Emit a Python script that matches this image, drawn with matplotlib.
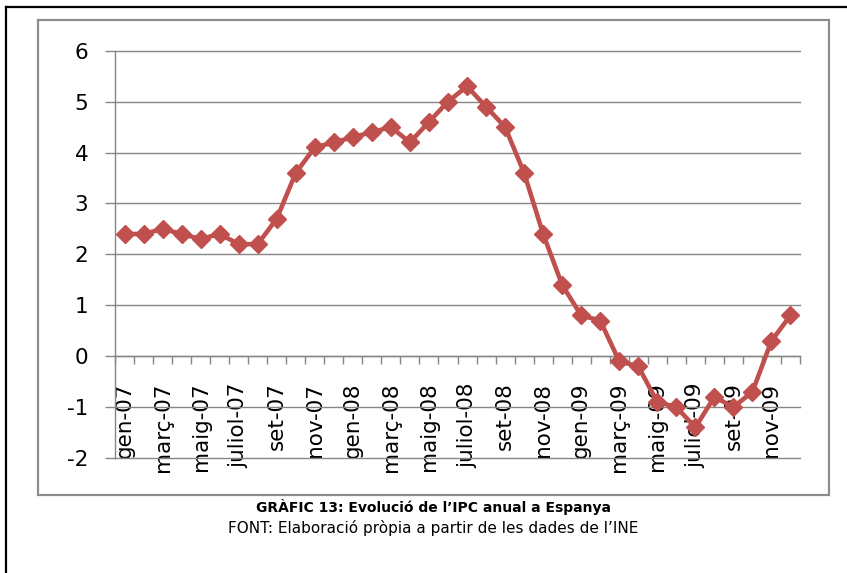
"""
Evolucio de l'IPC anual a Espanya (gen-07 a des-09), line chart with
diamond markers, framed like the original Excel figure in the report.
"""

import numpy as np
import matplotlib
matplotlib.use("Agg")
import matplotlib.pyplot as plt
from matplotlib.lines import Line2D
from matplotlib.patches import Rectangle


MONTHS = ["gen", "febr", "març", "abr", "maig", "juny",
          "juliol", "ag", "set", "oct", "nov", "des"]
YEARS = ["07", "08", "09"]
CATEGORIES = [f"{m}-{y}" for y in YEARS for m in MONTHS]

IPC = [2.4, 2.4, 2.5, 2.4, 2.3, 2.4, 2.2, 2.2, 2.7, 3.6, 4.1, 4.2,
       4.3, 4.4, 4.5, 4.2, 4.6, 5.0, 5.3, 4.9, 4.5, 3.6, 2.4, 1.4,
       0.8, 0.7, -0.1, -0.2, -0.9, -1.0, -1.4, -0.8, -1.0, -0.7, 0.3, 0.8]

Y_TICKS = [-2, -1, 0, 1, 2, 3, 4, 5, 6]

TITLE = "GRÀFIC 13: Evolució de l’IPC anual a Espanya"
SOURCE = "FONT: Elaboració pròpia a partir de les dades de l’INE"

LINE_COLOR = "#C0504D"
GRID_COLOR = "#868686"

W, H = 847, 573


def px(x, y):
    # pixel (from top-left) -> figure fraction
    return x / W, 1 - y / H


def main():
    fig = plt.figure(figsize=(W / 100, H / 100), dpi=100)

    # outer page frame (black) and chart frame (gray)
    fig.add_artist(Line2D([6 / W, 6 / W], [0, 1 - 7 / H], color="black",
                          lw=1.6, transform=fig.transFigure))
    fig.add_artist(Line2D([6 / W, 1], [1 - 7 / H, 1 - 7 / H], color="black",
                          lw=1.6, transform=fig.transFigure))
    fig.add_artist(Rectangle(px(38, 495), (829 - 38) / W, (495 - 20) / H,
                             fill=False, edgecolor="#8c8c8c", lw=1.6,
                             transform=fig.transFigure))

    left, right, top, bottom = 115, 800, 50.7, 458
    ax = fig.add_axes([left / W, 1 - bottom / H, (right - left) / W, (bottom - top) / H])

    x = np.arange(len(IPC))
    ax.plot(x, IPC, color=LINE_COLOR, lw=3.3, marker="D", markersize=9,
            markerfacecolor=LINE_COLOR, markeredgecolor=LINE_COLOR, zorder=3)

    ax.set_xlim(-0.5, len(IPC) - 0.5)
    ax.set_ylim(min(Y_TICKS), max(Y_TICKS))

    for side in ["top", "right"]:
        ax.spines[side].set_visible(False)
    ax.spines["left"].set_color(GRID_COLOR)
    ax.spines["left"].set_linewidth(1.0)
    ax.spines["bottom"].set_position(("data", 0))
    ax.spines["bottom"].set_color(GRID_COLOR)
    ax.spines["bottom"].set_linewidth(1.0)

    ax.set_yticks(Y_TICKS)
    ax.set_yticklabels([str(v) for v in Y_TICKS])
    ax.tick_params(axis="y", length=7.2, width=1.0, color=GRID_COLOR,
                   pad=12, labelsize=15.5)
    ax.yaxis.grid(True, color=GRID_COLOR, lw=1.0)
    for gl in ax.get_ygridlines():
        gl.set_clip_on(False)
    ax.set_axisbelow(True)

    # tick marks between categories, labels on every second category
    ax.set_xticks(np.arange(-0.5, len(IPC), 1.0))
    ax.set_xticklabels([])
    ax.tick_params(axis="x", which="major", length=5.8, width=1.0,
                   color=GRID_COLOR, direction="out")
    ax.set_xticks(x[::2], minor=True)
    ax.set_xticklabels(CATEGORIES[::2], minor=True, rotation=90)
    ax.tick_params(axis="x", which="minor", length=0, pad=19, labelsize=15.5)

    fig.text(433.5 / W, 1 - 507 / H, TITLE, ha="center", va="center",
             fontsize=10, fontweight="bold")
    fig.text(433.5 / W, 1 - 528 / H, SOURCE, ha="center", va="center",
             fontsize=11)

    fig.savefig("out.png", dpi=100)
    plt.close(fig)


if __name__ == "__main__":
    main()
